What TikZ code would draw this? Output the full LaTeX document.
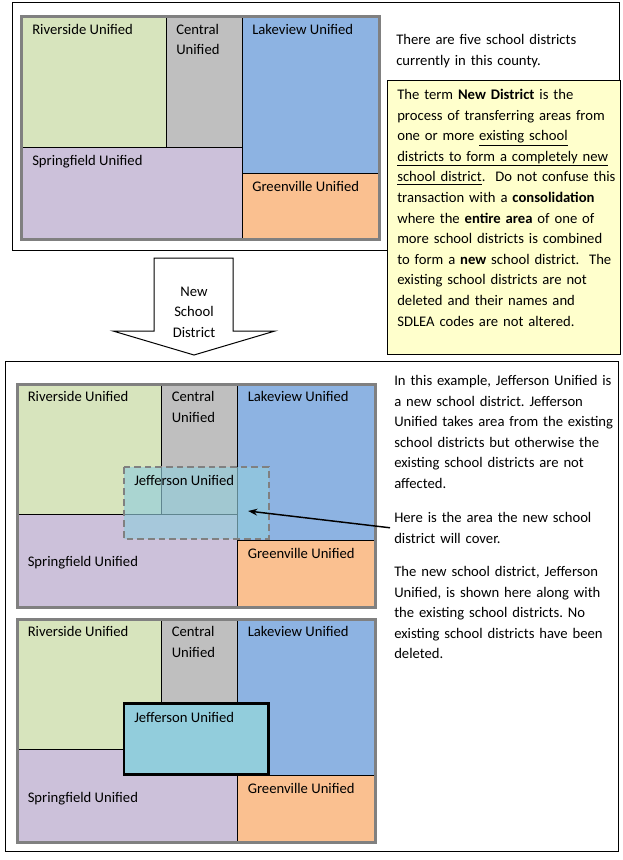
\documentclass[tikz,border=0pt]{standalone}
\usepackage{fontspec}
\setmainfont{Carlito}
\usepackage{xcolor}
\usetikzlibrary{arrows.meta,positioning}
\definecolor{riverside}{HTML}{D7E4BD}
\definecolor{central}{HTML}{BFBFBF}
\definecolor{lakeview}{HTML}{8DB3E2}
\definecolor{springfield}{HTML}{CCC1DA}
\definecolor{greenville}{HTML}{FAC090}
\definecolor{jefferson}{HTML}{92CDDC}
\definecolor{mapgray}{HTML}{808080}
\definecolor{noteyellow}{HTML}{FFFFCC}
\newcommand{\bodyfont}{\fontsize{11pt}{15.45pt}\selectfont\frenchspacing}
\tikzset{
  region/.style={draw=black,line width=0.75pt},
  mapframe/.style={draw=mapgray,line width=2.25pt},
  panel/.style={draw=black,line width=0.75pt},
  districtlabel/.style={anchor=base west,inner sep=0pt,font=\bodyfont},
  note/.style={anchor=base west,inner sep=0pt,align=left,text width=175pt,font=\bodyfont}
}
% one county map: #1 prefix, #2 x, #3 y, #4 y of the Springfield label
\newcommand{\districtmap}[4]{%
  \begin{scope}[shift={(#2,#3)}]
    \fill[riverside] (2,2) rectangle (146,132);
    \fill[central] (146,2) rectangle (222,132);
    \fill[lakeview] (222,2) rectangle (359,158);
    \fill[springfield] (2,132) rectangle (222,224);
    \fill[greenville] (222,158) rectangle (359,224);
    \draw[region] (2,132)--(222,132) (146,2)--(146,132) (222,2)--(222,224) (222,158)--(359,158);
    \draw[mapframe] (1.5,1.5) rectangle (359.5,224.5);
    \node[districtlabel] (#1-riverside) at (12,19) {Riverside Unified};
    \node[districtlabel,text width=60pt] (#1-central) at (156,19) {Central\\Unified};
    \node[districtlabel] (#1-lakeview) at (232,19) {Lakeview Unified};
    \node[districtlabel] (#1-springfield) at (12,#4) {Springfield Unified};
    \node[districtlabel] (#1-greenville) at (232,176) {Greenville Unified};
  \end{scope}}

\begin{document}
\begin{tikzpicture}[x=0.75pt,y=-0.75pt]
  \useasboundingbox (0,0) rectangle (623,860);
  % top panel
  \draw[panel] (12.5,2.5) rectangle (619,250);
  \districtmap{top}{20}{15}{150}
  \node[note] (fivetext) at (396,44.5) {There are five school districts\\currently in this county.};
  \draw[panel,fill=noteyellow] (387.5,80) rectangle (620,354);
  \node[note] (termtext) at (397,99.5) {The term \textbf{New District} is the\\
    process of transferring areas from\\
    one or more \underline{existing school}\\
    \underline{districts to form a completely new}\\
    \underline{school district}.\ \ Do not confuse this\\
    transaction with a \textbf{consolidation}\\
    where the \textbf{entire area} of one of\\
    more school districts is combined\\
    to form a \textbf{new} school district.\ \ The\\
    existing school districts are not\\
    deleted and their names and\\
    SDLEA codes are not altered.};
  % block arrow
  \draw[panel,fill=white] (154,258)--(233,258)--(233,331)--(275,331)--(194,355)--(113,331)--(154,331)--cycle;
  \node[font=\bodyfont,align=center,inner sep=0pt] (newdistrict) at (194,312) {New\\School\\District};
  % lower panel
  \draw[panel] (5.5,361.5) rectangle (618,851.5);
  \districtmap{mid}{15.5}{382.5}{183.5}
  \fill[jefferson,fill opacity=0.65] (123.5,467) rectangle (268.5,538.5);
  \draw[mapgray,line width=1.5pt,dash pattern=on 5pt off 3pt] (123.5,467) rectangle (268.5,538.5);
  \node[districtlabel] (mid-jefferson) at (134,485) {Jefferson Unified};
  \coordinate (jefftip) at (248,511);
  \node[note] (exampletext) at (394,385.5) {In this example, Jefferson Unified is\\
    a new school district. Jefferson\\
    Unified takes area from the existing\\
    school districts but otherwise the\\
    existing school districts are not\\
    affected.};
  \node[note] (areatext) at (394,522.5) {Here is the area the new school\\district will cover.};
  \draw[line width=1.1pt,-{Stealth[length=7pt,width=5pt]}] ([xshift=-3pt]areatext.west) -- (jefftip);
  \node[note] (showntext) at (394,576.5) {The new school district, Jefferson\\
    Unified, is shown here along with\\
    the existing school districts. No\\
    existing school districts have been\\
    deleted.};
  \districtmap{bot}{15.5}{617.5}{184.5}
  \draw[fill=jefferson,line width=1.9pt] (124,703.5) rectangle (268.5,774.5);
  \node[districtlabel] (bot-jefferson) at (134,722) {Jefferson Unified};
\end{tikzpicture}
\end{document}
